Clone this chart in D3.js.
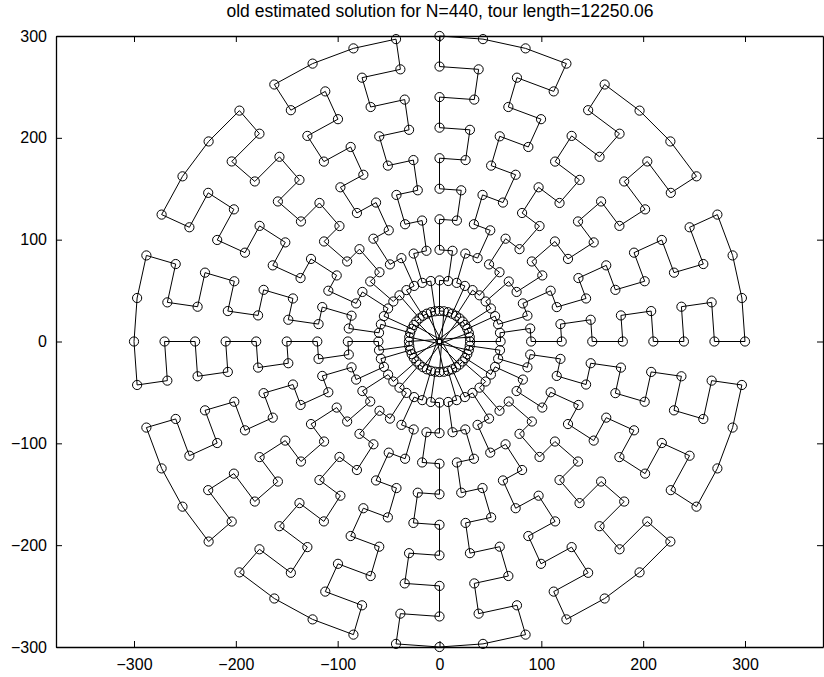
<!DOCTYPE html>
<html>
<head>
<meta charset="utf-8">
<script src="https://cdn.jsdelivr.net/npm/d3@7/dist/d3.min.js"></script>
<style>
  body { margin: 0; background: #fff; }
  svg { display: block; font-family: "Liberation Sans", Arial, sans-serif; }
</style>
</head>
<body>
<script>
// ring radii (ring index 1..10) and number of spokes per ring
const radii = [30, 60, 90, 120, 150, 180, 210, 240, 270, 300]
const spokeCount = 44

// one 4-spoke block of the tour, [ring, spoke offset]
const unitPath = [
  [2,0],[2,1],[3,1],[3,0],[4,0],[4,1],[5,1],[5,0],[6,0],[6,1],[7,1],[7,0],
  [8,0],[8,1],[9,1],[9,0],[10,0],[10,1],[10,2],[10,3],[9,3],[9,2],[8,2],[8,3],
  [7,3],[7,2],[6,2],[6,3],[5,3],[5,2],[4,2],[4,3],[3,3],[3,2],[2,2],[2,3]
]
// inner ring hop from the end of one block across the centre
const hubPath = [[1,3],[1,2],[1,25],[1,24]]
// order in which the 11 blocks are visited (block u starts at spoke 4u)
const unitOrder = [0, 6, 1, 7, 2, 8, 3, 9, 4, 10, 5]

const xTicks = [-300, -200, -100, 0, 100, 200, 300]
const yTicks = [-300, -200, -100, 0, 100, 200, 300]
const title = "old estimated solution for N=440, tour length=12250.06"

const width = 824, height = 677
const margin = {top: 36, right: 1, bottom: 30, left: 56}

const x = d3.scaleLinear().domain([-376.6, 376.6]).range([margin.left, width - margin.right])
const y = d3.scaleLinear().domain([-300, 300]).range([height - margin.bottom, margin.top])
const angle = d3.scaleLinear().domain([0, spokeCount]).range([0, 2 * Math.PI])
const radius = d3.scaleOrdinal().domain(d3.range(1, radii.length + 1)).range(radii)

let tour = []
for (const u of unitOrder) {
  for (const [r, o] of unitPath.concat(hubPath)) {
    tour.push([r, (4 * u + o) % spokeCount])
  }
}
const pts = tour.map(([r, s]) => {
  const a = angle(s), rr = radius(r)
  return [rr * Math.cos(a), rr * Math.sin(a)]
})

const svg = d3.select("body").append("svg")
    .attr("width", width)
    .attr("height", height)

const fmt = d => d < 0 ? "\u2212" + Math.abs(d) : String(d)

svg.append("g")
    .attr("transform", `translate(0,${y.range()[0]})`)
    .call(d3.axisBottom(x).tickValues(xTicks).tickSizeInner(-6).tickSizeOuter(0).tickPadding(12).tickFormat(fmt))
svg.append("g")
    .attr("transform", `translate(0,${y.range()[1]})`)
    .call(d3.axisTop(x).tickValues(xTicks).tickSizeInner(-6).tickSizeOuter(0).tickFormat(""))
svg.append("g")
    .attr("transform", `translate(${x.range()[0]},0)`)
    .call(d3.axisLeft(y).tickValues(yTicks).tickSizeInner(-6).tickSizeOuter(0).tickPadding(9).tickFormat(fmt))
svg.append("g")
    .attr("transform", `translate(${x.range()[1]},0)`)
    .call(d3.axisRight(y).tickValues(yTicks).tickSizeInner(-6).tickSizeOuter(0).tickFormat(""))

svg.selectAll(".domain").attr("stroke", "#000").attr("stroke-width", 1.3)
svg.selectAll(".tick line").attr("stroke", "#000").attr("stroke-width", 1)
svg.selectAll(".tick text")
    .attr("fill", "#000")
    .style("font-size", "16px")
    .style("font-family", "'Liberation Sans', Arial, sans-serif")

svg.append("text")
    .attr("x", 440)
    .attr("y", 17)
    .attr("text-anchor", "middle")
    .style("font-size", "17.5px")
    .text(title)

const line = d3.line().x(d => x(d[0])).y(d => y(d[1])).curve(d3.curveLinearClosed)

svg.append("path")
    .attr("d", line(pts))
    .attr("fill", "none")
    .attr("stroke", "#000")
    .attr("stroke-width", 1)

svg.append("g")
  .selectAll("circle")
  .data(pts)
  .join("circle")
    .attr("cx", d => x(d[0]))
    .attr("cy", d => y(d[1]))
    .attr("r", 4.6)
    .attr("fill", "none")
    .attr("stroke", "#000")
    .attr("stroke-width", 1)
</script>
</body>
</html>
